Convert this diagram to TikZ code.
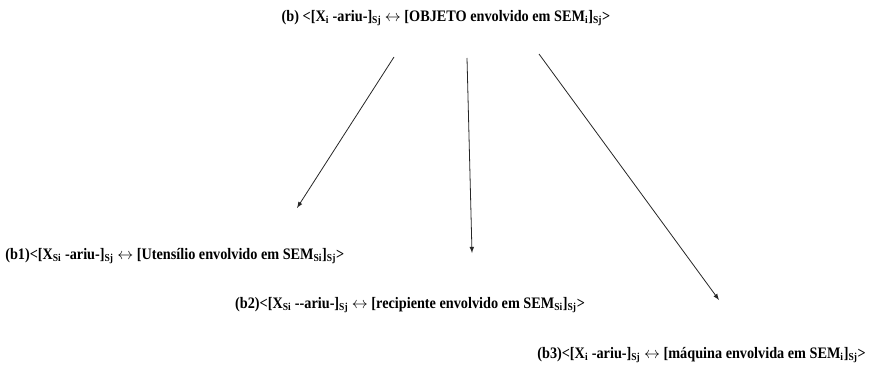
\documentclass[tikz,border=0pt]{standalone}
\usepackage{fontspec}
\setmainfont{Liberation Serif}[FakeStretch=0.89]
\usepackage{tikz}
\usetikzlibrary{arrows, positioning}

\newcommand{\lo}[1]{\textsubscript{#1}}

\begin{document}
\begin{tikzpicture}[
    x=0.75pt, y=-0.75pt,
    every node/.style={inner sep=0pt, font=\bfseries\fontsize{12}{14}\selectfont},
    arrow/.style={-latex, draw=black!85, semithick}
]
\useasboundingbox (0,0) rectangle (870,370);

\node (b) at (446,18) {(b) <[X\lo{i} -ariu-]\lo{Sj} $\leftrightarrow$ [OBJETO envolvido em SEM\lo{i}]\lo{Sj}>};
\node[anchor=west] (b1) at (5,256) {(b1)<[X\lo{Si} -ariu-]\lo{Sj} $\leftrightarrow$ [Utensílio envolvido em SEM\lo{Si}]\lo{Sj}>};
\node (b2) at (410,305) {(b2)<[X\lo{Si} -{}-ariu-]\lo{Sj} $\leftrightarrow$ [recipiente envolvido em SEM\lo{Si}]\lo{Sj}>};
\node[anchor=east] (b3) at (866,355) {(b3)<[X\lo{i} -ariu-]\lo{Sj} $\leftrightarrow$ [máquina envolvida em SEM\lo{i}]\lo{Sj}>};

\coordinate (s1) at (394,57);
\coordinate (s2) at (467,58);
\coordinate (s3) at (539,54);
\coordinate (e1) at (297,208);
\coordinate (e2) at (472,253);
\coordinate (e3) at (719,300);

\draw[arrow] (s1) -- (e1);
\draw[arrow] (s2) -- (e2);
\draw[arrow] (s3) -- (e3);
\end{tikzpicture}
\end{document}
